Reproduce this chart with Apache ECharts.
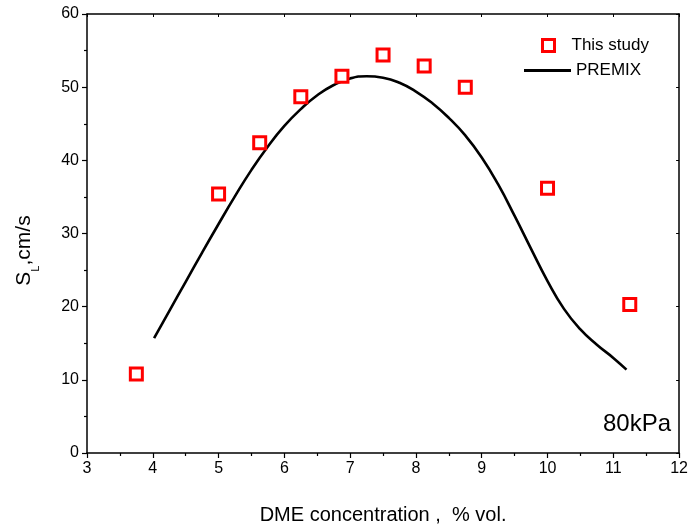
<!DOCTYPE html>
<html>
<head>
<meta charset="utf-8">
<script src="https://cdn.jsdelivr.net/npm/echarts@6/dist/echarts.min.js"></script>
<style>
  html, body { margin: 0; padding: 0; background: #fff; }
  #chart { width: 691px; height: 532px; }
</style>
</head>
<body>
<div id="chart"></div>
<script>
// measured flame speeds (This study)
const studyX = [3.75, 5, 5.625, 6.25, 6.875, 7.5, 8.125, 8.75, 10, 11.25]
const studyY = [10.8, 35.4, 42.4, 48.7, 51.5, 54.4, 52.9, 50.0, 36.2, 20.3]
// PREMIX prediction curve
const premixX = [4.02, 4.25, 4.5, 4.75, 5.0, 5.25, 5.5, 5.75, 6.0, 6.25, 6.5, 6.75, 7.0, 7.25, 7.5, 7.75, 8.0, 8.25, 8.5, 8.75, 9.0, 9.25, 9.5, 9.75, 10.0, 10.25, 10.5, 10.75, 11.0, 11.2]
const premixY = [15.7, 19.4, 23.4, 27.4, 31.3, 35.1, 38.7, 41.9, 44.7, 47.0, 48.9, 50.3, 51.2, 51.5, 51.3, 50.6, 49.4, 47.8, 45.8, 43.4, 40.4, 36.7, 32.4, 27.9, 23.5, 19.7, 16.9, 14.8, 13.0, 11.4]

const chart = echarts.init(document.getElementById('chart'))
const font = 'Liberation Sans, Arial, sans-serif'

const axisCommon = {
  axisLine: { show: true, onZero: false, lineStyle: { color: '#000', width: 1.5 } },
  axisTick: { show: true, length: 5, lineStyle: { color: '#000', width: 1.2 } },
  minorTick: { show: true, splitNumber: 2, length: 3, lineStyle: { color: '#000', width: 1.2 } },
  splitLine: { show: false }
}
const sideTicks = { axisTick: { show: true, inside: true, length: 3, lineStyle: { color: '#000' } }, minorTick: { show: false } }

chart.setOption({
  animation: false,
  backgroundColor: '#fff',
  grid: { left: 87, right: 8, top: 14, bottom: 79 },
  xAxis: [
    Object.assign({
      type: 'value', min: 3, max: 12, interval: 1, position: 'bottom',
      name: 'DME concentration ,  % vol.',
      nameLocation: 'middle', nameGap: 52,
      nameTextStyle: { fontFamily: font, fontSize: 20, color: '#000' },
      axisLabel: { fontFamily: font, fontSize: 16, color: '#000', margin: 8 }
    }, axisCommon),
    Object.assign({
      type: 'value', min: 3, max: 12, interval: 1, position: 'top',
      axisLabel: { show: false }
    }, axisCommon, sideTicks)
  ],
  yAxis: [
    Object.assign({
      type: 'value', min: 0, max: 60, interval: 10, position: 'left',
      name: '{s|S}{sub|L}{s|,cm/s}',
      nameLocation: 'middle', nameGap: 52, nameRotate: 90,
      nameTextStyle: {
        padding: [0, 34, 0, 0],
        rich: {
          s: { fontFamily: font, fontSize: 21, color: '#000' },
          sub: { fontFamily: font, fontSize: 11, color: '#000', verticalAlign: 'bottom', padding: [0, 0, -6, 0] }
        }
      },
      axisLabel: { fontFamily: font, fontSize: 16, color: '#000', margin: 8 }
    }, axisCommon),
    Object.assign({
      type: 'value', min: 0, max: 60, interval: 10, position: 'right',
      axisLabel: { show: false }
    }, axisCommon, sideTicks)
  ],
  legend: [
    {
      data: [{ name: 'This study', itemStyle: { color: '#fff', borderColor: '#ff0000', borderWidth: 3 } }],
      left: 536, top: 32, itemWidth: 12, itemHeight: 12,
      textStyle: { fontFamily: font, fontSize: 17, color: '#000', padding: [0, 0, 0, 12] }
    },
    {
      data: [{ name: 'PREMIX', icon: 'path://M0,0H47V3H0Z' }],
      left: 519, top: 57, itemWidth: 47, itemHeight: 3,
      textStyle: { fontFamily: font, fontSize: 17, color: '#000', padding: [0, 0, 0, 0] }
    }
  ],
  graphic: [{
    type: 'text', right: 20, top: 412,
    style: { text: '80kPa', font: '24px ' + font, fill: '#000' }
  }],
  series: [
    {
      name: 'PREMIX', type: 'line', xAxisIndex: 0, yAxisIndex: 0,
      data: premixX.map((x, i) => [x, premixY[i]]),
      smooth: 0.5, symbol: 'none', showSymbol: false,
      lineStyle: { color: '#000', width: 2.6 },
      itemStyle: { color: '#000' }
    },
    {
      name: 'This study', type: 'scatter', xAxisIndex: 0, yAxisIndex: 0,
      data: studyX.map((x, i) => [x, studyY[i]]),
      symbol: 'rect', symbolSize: 12,
      itemStyle: { color: '#fff', borderColor: '#ff0000', borderWidth: 3, opacity: 1 },
      z: 3
    }
  ]
})
</script>
</body>
</html>
